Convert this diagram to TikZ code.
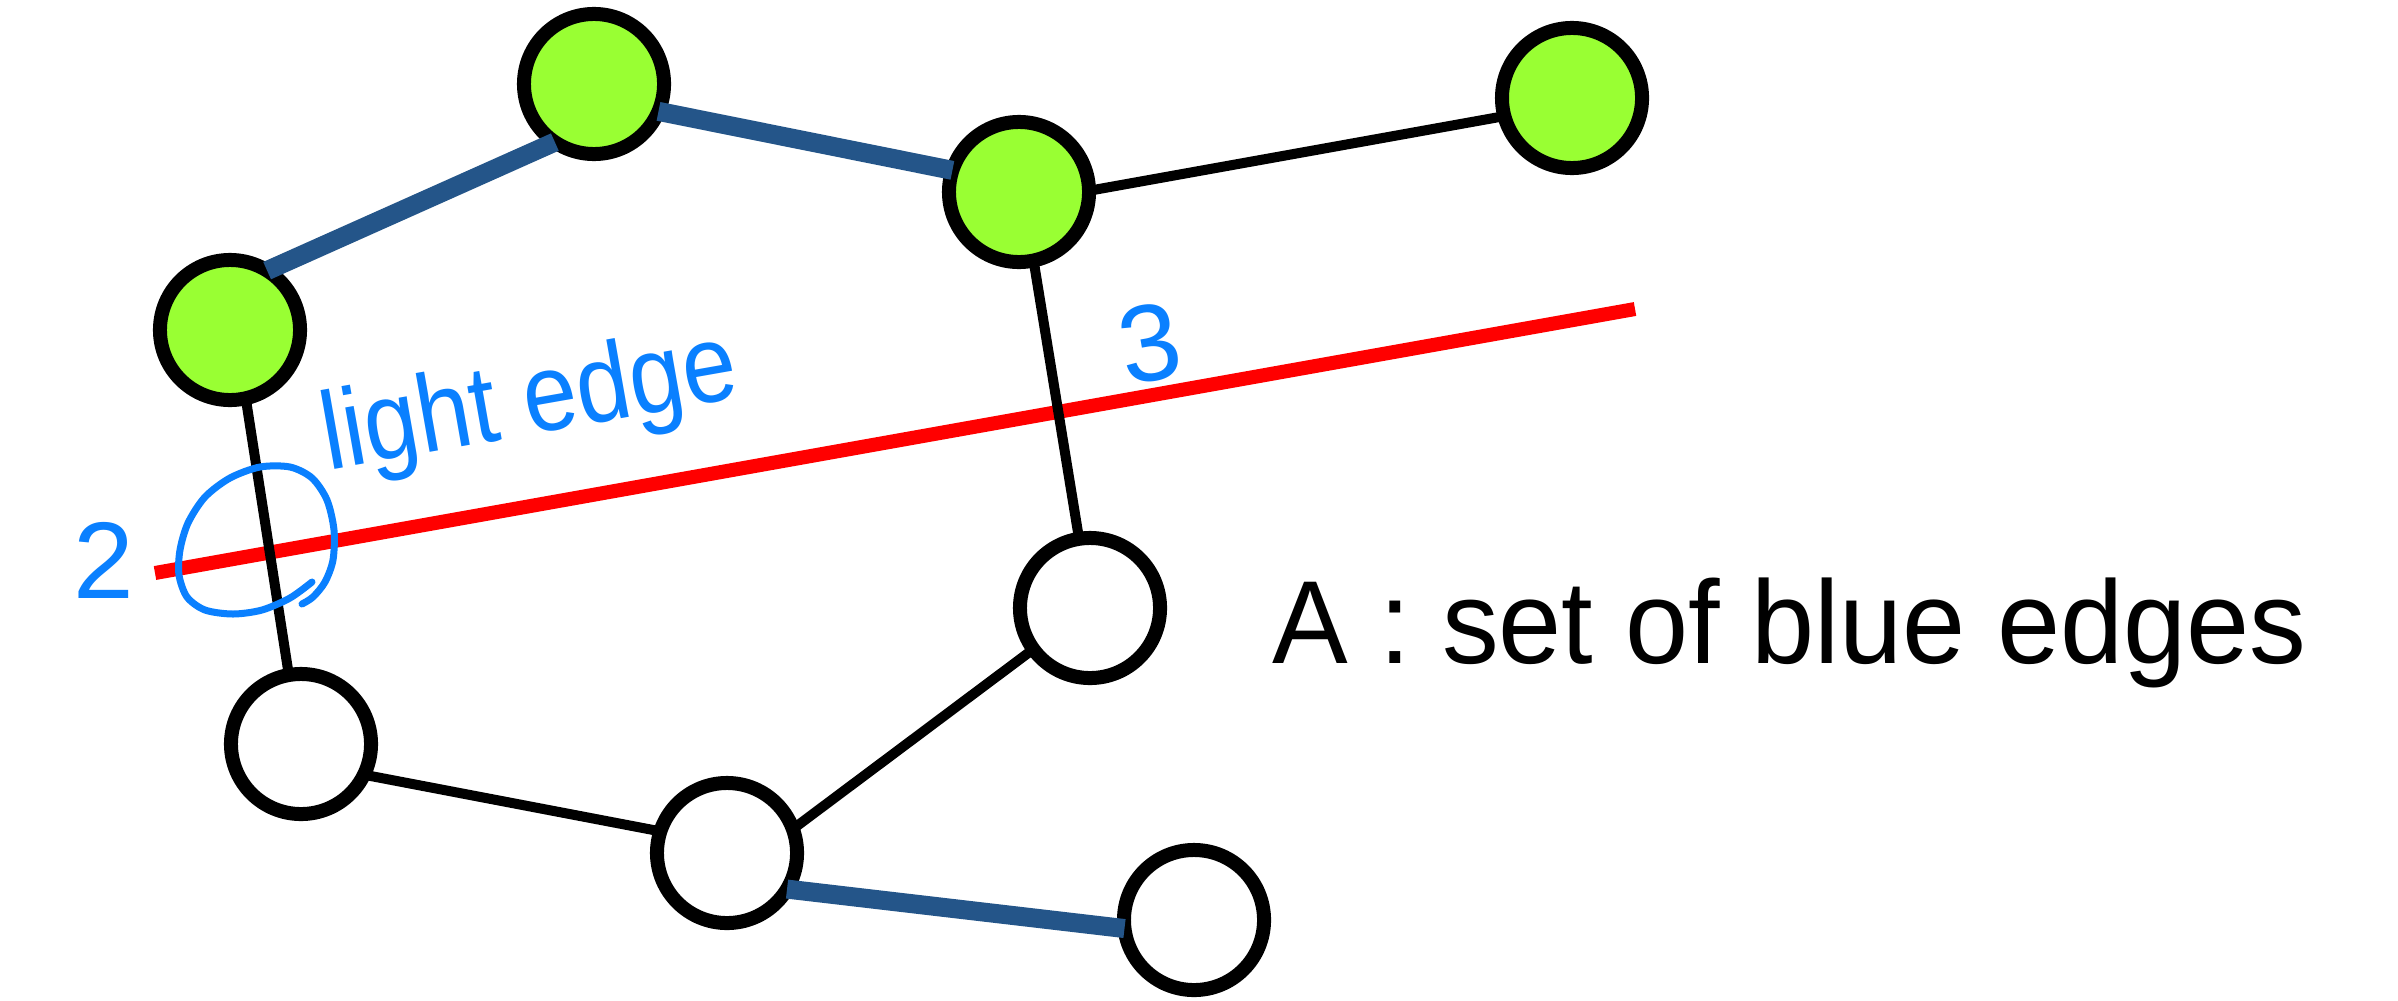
\documentclass[tikz,border=0pt]{standalone}
\usepackage{fontspec}
\setmainfont{Liberation Sans}
\definecolor{nodegreen}{RGB}{153,255,51}
\definecolor{edgeblue}{RGB}{36,85,137}
\definecolor{inkblue}{RGB}{10,128,255}
\begin{document}
\begin{tikzpicture}[x=0.01cm,y=-0.01cm,
  vtx/.style={circle,draw=black,line width=0.14cm,minimum size=1.4cm,inner sep=0pt,outer sep=0pt},
  inA/.style={vtx,fill=nodegreen},
  outA/.style={vtx,fill=white},
  plain/.style={draw=black,line width=0.1cm},
  tree/.style={draw=edgeblue,line width=0.19cm},
  cut/.style={draw=red,line width=0.14cm},
  ink/.style={text=inkblue,inner sep=0pt,outer sep=0pt},
  inkline/.style={draw=inkblue,line width=0.07cm,line cap=round,line join=round},
  legend/.style={inner sep=0pt,outer sep=0pt,font=\fontsize{33.6pt}{36pt}\selectfont}]
\useasboundingbox (0,0) rectangle (2398,1000);
\fill[white] (0,0) rectangle (2398,1000);
% cut line
\coordinate (cutL) at (155,573);
\coordinate (cutR) at (1635,309);
\draw[cut] (cutL) -- (cutR);
% vertices
\node[inA] (g1) at (230,330) {};
\node[inA] (g2) at (594,84) {};
\node[inA] (g3) at (1019,192) {};
\node[inA] (g4) at (1572,98) {};
\node[outA] (w1) at (1090,608) {};
\node[outA] (w2) at (301,744) {};
\node[outA] (w3) at (727,853) {};
\node[outA] (w4) at (1194,920) {};
% plain edges
\draw[plain] (g1.-77) -- (w2.100);
\draw[plain] (g3.-78) -- (w1.99);
\draw[plain] (g3.1) -- (g4.195);
\draw[plain] (w2.-26) -- (w3.162);
\draw[plain] (w3.20) -- (w1.216);
% edges in A
\draw[tree] (g1.58) -- (g2.236);
\draw[tree] (g2.-23) -- (g3.162);
\draw[tree] (w3.-31) -- (w4.187);
% legend
\node[legend,anchor=base west] (leg) at (1272,663) {\scalebox{0.96}[1]{A : set of blue edges}};
% handwritten annotations
\node[ink,font=\fontsize{31pt}{32pt}\selectfont] (two) at (104,560) {2};
\node[ink,font=\fontsize{31pt}{32pt}\selectfont,rotate=10] (three) at (1150,343) {3};
\node[ink,font=\fontsize{29.9pt}{30pt}\selectfont,rotate=10,anchor=base] (light) at (535,434) {\scalebox{0.92}[1.05]{light edge}};
\draw[inkline] plot[smooth] coordinates {(312,582) (290,598) (262,610) (233,614) (205,610) (187,597) (179,575) (180,550) (188,523) (205,497) (230,478) (260,467) (290,467) (312,478) (327,500) (334,530) (333,560) (325,582) (313,597) (302,604)};
\end{tikzpicture}
\end{document}
